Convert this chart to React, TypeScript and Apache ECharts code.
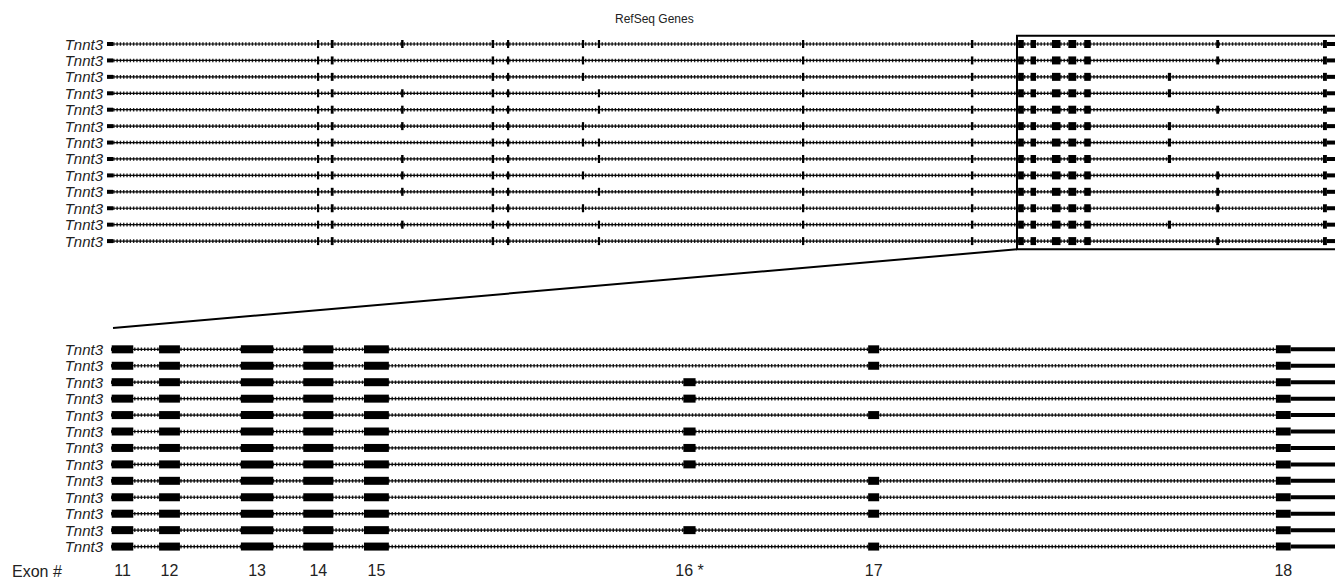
import React, { useEffect, useRef } from "react";
import * as echarts from "echarts";

// ---------- data (positions in kb from the gene start) ----------
const ROW_LABELS = [
  "Tnnt3", "Tnnt3", "Tnnt3", "Tnnt3", "Tnnt3", "Tnnt3", "Tnnt3",
  "Tnnt3", "Tnnt3", "Tnnt3", "Tnnt3", "Tnnt3", "Tnnt3",
];

const EXON_NAMES = ["1", "2", "3", "4", "5", "6", "7", "8", "9", "10", "11", "12", "13", "14", "15", "16", "17", "18"];
const EXON_START = [0.0, 3.42, 3.645, 4.79, 6.265, 6.515, 7.735, 7.995, 11.32, 14.07, 14.84, 15.042, 15.391, 15.657, 15.916, 17.278, 18.066, 19.805];
const EXON_END = [0.1, 3.455, 3.69, 4.83, 6.305, 6.55, 7.77, 8.03, 11.355, 14.11, 14.932, 15.131, 15.529, 15.785, 16.022, 17.33, 18.113, 19.868];
const EXON_IS_UTR = [true, false, false, false, false, false, false, false, false, false, false, false, false, false, false, false, false, false];

// which transcripts (1-based rows) carry each exon; "all" = every row
const ALL = "all";
const EXON_ROWS: (number[] | string)[] = [
  ALL, ALL, ALL,
  [1, 4, 5, 6, 8, 9, 10, 12],
  ALL, ALL,
  [1, 2, 3, 6, 7, 9, 11],
  [1, 4, 5, 7, 8, 10, 12, 13],
  ALL, ALL, ALL, ALL, ALL, ALL, ALL,
  [3, 4, 6, 7, 8, 12],
  [1, 2, 5, 9, 10, 11, 13],
  ALL,
];

const UTR3_START = 19.868;
const UTR3_END = 20.8;

const OVERVIEW_RANGE = [0, 20];
const ZOOM_RANGE = [14.837, 20.057];

const LABELED_EXONS = ["11", "12", "13", "14", "15", "16", "17", "18"];
const LABEL_TEXT = ["11", "12", "13", "14", "15", "16 *", "17", "18"];

// ---------- layout ----------
const FONT = "'Liberation Sans', Arial, sans-serif";
const TOP_GRID = { left: 107, right: 0, top: 35.8, height: 213.5 };
const BOT_GRID = { left: 111, right: 0, top: 341.1, height: 213.7 };
const CONNECT_END = [113, 328];

function hasExon(i: number, row: number) {
  const r = EXON_ROWS[i];
  return r === ALL || (r as number[]).indexOf(row + 1) >= 0;
}

function geneRenderer(params: any, api: any) {
  const row = api.value(1);
  const cs = params.coordSys;
  const xMin = cs.x;
  const xMax = cs.x + cs.width;
  const y = api.coord([0, row])[1];
  const px = (v: number) => api.coord([v, row])[0];
  const children: any[] = [];

  const ia = Math.max(px(EXON_END[0]), xMin);
  const ib = Math.min(px(EXON_START[EXON_START.length - 1]), xMax);
  if (ib > ia) {
    children.push({
      type: "line",
      shape: { x1: ia, y1: y, x2: ib, y2: y },
      style: { stroke: "#111", lineWidth: 1.2 },
    });
    children.push({
      type: "line",
      shape: { x1: ia, y1: y, x2: ib, y2: y },
      style: { stroke: "#000", lineWidth: 3.6, lineDash: [1.4, 1.9], opacity: 0.85 },
    });
  }

  const addBar = (s: number, e: number, h: number, minW: number) => {
    let a = px(s);
    let b = px(e);
    if (b - a < minW) {
      const c = (a + b) / 2;
      a = c - minW / 2;
      b = c + minW / 2;
    }
    a = Math.max(a, xMin);
    b = Math.min(b, xMax);
    if (b <= a) return;
    children.push({
      type: "rect",
      shape: { x: a, y: y - h / 2, width: b - a, height: h },
      style: { fill: "#000" },
    });
  };

  for (let i = 0; i < EXON_START.length; i++) {
    if (!hasExon(i, row)) continue;
    addBar(EXON_START[i], EXON_END[i], EXON_IS_UTR[i] ? 4 : 8, 2.2);
  }
  addBar(UTR3_START, UTR3_END, 4, 1);

  return { type: "group", children };
}

function boxRenderer(params: any, api: any) {
  const cs = params.coordSys;
  const x = api.coord([api.value(0), 0])[0] - 1;
  const yb = cs.y + cs.height;
  return {
    type: "group",
    children: [
      {
        type: "rect",
        shape: { x, y: cs.y, width: 1335 - x + 10, height: cs.height },
        style: { fill: "none", stroke: "#000", lineWidth: 2 },
      },
      {
        type: "line",
        shape: { x1: x, y1: yb, x2: CONNECT_END[0], y2: CONNECT_END[1] },
        style: { stroke: "#000", lineWidth: 2 },
      },
    ],
  };
}

function labelRenderer(params: any, api: any) {
  const cs = params.coordSys;
  const x = api.coord([api.value(0), 0])[0];
  const idx = api.value(2);
  return {
    type: "text",
    x,
    y: cs.y + cs.height + 16,
    style: {
      text: LABEL_TEXT[idx],
      fill: "#222",
      font: `16px ${FONT}`,
      textAlign: "center",
      textVerticalAlign: "middle",
    },
  };
}

export default function App() {
  const ref = useRef<HTMLDivElement>(null);

  useEffect(() => {
    if (!ref.current) return;
    const chart = echarts.init(ref.current, undefined, { renderer: "svg" });

    const rows = ROW_LABELS.map((_, i) => [0, i]);
    const labelData = LABELED_EXONS.map((name, k) => {
      const i = EXON_NAMES.indexOf(name);
      return [(EXON_START[i] + EXON_END[i]) / 2, 0, k];
    });

    const yAxisBase = (margin: number) => ({
      type: "category",
      data: ROW_LABELS,
      inverse: true,
      axisLine: { show: false },
      axisTick: { show: false },
      splitLine: { show: false },
      axisLabel: {
        interval: 0,
        margin,
        fontSize: 15,
        fontStyle: "italic",
        fontFamily: FONT,
        color: "#222",
      },
    });

    chart.setOption({
      animation: false,
      backgroundColor: "#fff",
      title: {
        text: "RefSeq Genes",
        left: 610,
        top: 8,
        textStyle: { fontSize: 12, fontWeight: "normal", fontFamily: FONT, color: "#222" },
      },
      graphic: [
        {
          type: "text",
          left: 12,
          top: 563,
          style: { text: "Exon #", font: `16px ${FONT}`, fill: "#222" },
        },
      ],
      grid: [
        { ...TOP_GRID, containLabel: false },
        { ...BOT_GRID, containLabel: false },
      ],
      xAxis: [
        { type: "value", gridIndex: 0, min: OVERVIEW_RANGE[0], max: OVERVIEW_RANGE[1], show: false },
        { type: "value", gridIndex: 1, min: ZOOM_RANGE[0], max: ZOOM_RANGE[1], show: false },
      ],
      yAxis: [
        { ...yAxisBase(4), gridIndex: 0 },
        { ...yAxisBase(8), gridIndex: 1 },
      ],
      series: [
        {
          type: "custom",
          xAxisIndex: 0,
          yAxisIndex: 0,
          renderItem: geneRenderer,
          data: rows,
          silent: true,
        },
        {
          type: "custom",
          xAxisIndex: 1,
          yAxisIndex: 1,
          renderItem: geneRenderer,
          data: rows,
          silent: true,
        },
        {
          type: "custom",
          xAxisIndex: 0,
          yAxisIndex: 0,
          renderItem: boxRenderer,
          data: [[ZOOM_RANGE[0], 0]],
          silent: true,
        },
        {
          type: "custom",
          xAxisIndex: 1,
          yAxisIndex: 1,
          renderItem: labelRenderer,
          data: labelData,
          silent: true,
        },
      ],
    });

    return () => chart.dispose();
  }, []);

  return (
    <div
      ref={ref}
      style={{ position: "absolute", left: 0, top: 0, width: 1335, height: 580 }}
    />
  );
}
